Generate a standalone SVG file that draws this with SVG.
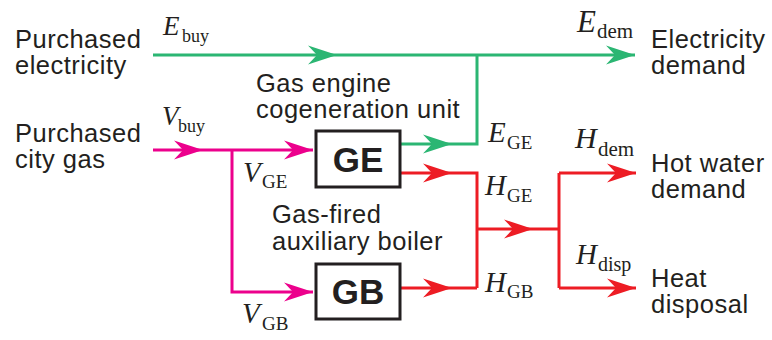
<svg xmlns="http://www.w3.org/2000/svg" width="772" height="340" viewBox="0 0 772 340">
<style>
.lbl{font-family:"Liberation Sans",Arial,sans-serif;font-size:25.5px;letter-spacing:0.5px;fill:#231f20}
.box{fill:#fff;stroke:#231f20;stroke-width:3}
.bt{font-family:"Liberation Sans",Arial,sans-serif;font-size:35px;font-weight:bold;fill:#231f20;text-anchor:middle}
.m{font-family:"Liberation Serif","Times New Roman",serif;font-style:italic;fill:#231f20}
.s{font-family:"Liberation Serif","Times New Roman",serif;font-style:normal;fill:#231f20}
.g{fill:none;stroke:#2bb673;stroke-width:3}
.p{fill:none;stroke:#ec008c;stroke-width:3}
.r{fill:none;stroke:#ed1c24;stroke-width:3}
</style>
<defs>
<marker id="ag" markerUnits="userSpaceOnUse" markerWidth="32" markerHeight="22" viewBox="-30 -11 32 22" refX="0" refY="0" orient="auto"><path d="M0,0 L-29,-9.5 L-20,0 L-29,9.5 Z" fill="#2bb673"/></marker>
<marker id="ap" markerUnits="userSpaceOnUse" markerWidth="32" markerHeight="22" viewBox="-30 -11 32 22" refX="0" refY="0" orient="auto"><path d="M0,0 L-29,-9.5 L-20,0 L-29,9.5 Z" fill="#ec008c"/></marker>
<marker id="ar" markerUnits="userSpaceOnUse" markerWidth="32" markerHeight="22" viewBox="-30 -11 32 22" refX="0" refY="0" orient="auto"><path d="M0,0 L-29,-9.5 L-20,0 L-29,9.5 Z" fill="#ed1c24"/></marker>
</defs>
<g id="connectors">
<path class="g" d="M153,55 H337" marker-end="url(#ag)"/>
<path class="g" d="M337,55 H635" marker-end="url(#ag)"/>
<path class="g" d="M400,144 H452" marker-end="url(#ag)"/>
<path class="g" d="M452,144 H477 V55"/>
<path class="p" d="M153,150 H203" marker-end="url(#ap)"/>
<path class="p" d="M203,150 H313" marker-end="url(#ap)"/>
<path class="p" d="M232,150 V292 H313" marker-end="url(#ap)"/>
<path class="r" d="M400,173 H452" marker-end="url(#ar)"/>
<path class="r" d="M452,173 H477 V288"/>
<path class="r" d="M400,288 H452" marker-end="url(#ar)"/>
<path class="r" d="M452,288 H477"/>
<path class="r" d="M477,229 H533" marker-end="url(#ar)"/>
<path class="r" d="M533,229 H559"/>
<path class="r" d="M559,173 V288"/>
<path class="r" d="M559,173 H636" marker-end="url(#ar)"/>
<path class="r" d="M559,288 H636" marker-end="url(#ar)"/>
</g>
<g id="purchased-electricity"><text class="lbl" x="15" y="48">Purchased</text><text class="lbl" x="15" y="74">electricity</text></g>
<g id="purchased-gas"><text class="lbl" x="15" y="142">Purchased</text><text class="lbl" x="15" y="168">city gas</text></g>
<g id="ge-label"><text class="lbl" x="256" y="92">Gas engine</text><text class="lbl" x="256" y="118">cogeneration unit</text></g>
<g id="gb-label"><text class="lbl" x="272" y="223">Gas-fired</text><text class="lbl" x="272" y="250">auxiliary boiler</text></g>
<g id="electricity-demand"><text class="lbl" x="651" y="48">Electricity</text><text class="lbl" x="651" y="74">demand</text></g>
<g id="hot-water-demand"><text class="lbl" x="651" y="172">Hot water</text><text class="lbl" x="651" y="198">demand</text></g>
<g id="heat-disposal"><text class="lbl" x="651" y="287">Heat</text><text class="lbl" x="651" y="313">disposal</text></g>
<g id="GE"><rect class="box" x="316" y="131" width="84" height="56"/><text class="bt" x="358" y="171.5">GE</text></g>
<g id="GB"><rect class="box" x="316" y="264" width="84" height="55"/><text class="bt" x="358" y="304">GB</text></g>
<g id="math-labels">
<text x="163" y="35"><tspan class="m" font-size="27">E</tspan><tspan class="s" font-size="18" x="182" y="42">buy</tspan></text>
<text x="577" y="32"><tspan class="m" font-size="31">E</tspan><tspan class="s" font-size="21" x="597" y="38">dem</tspan></text>
<text x="162" y="125"><tspan class="m" font-size="27">V</tspan><tspan class="s" font-size="18" x="178" y="132">buy</tspan></text>
<text x="488" y="142"><tspan class="m" font-size="29">E</tspan><tspan class="s" font-size="19" x="507" y="149">GE</tspan></text>
<text x="575" y="148"><tspan class="m" font-size="30">H</tspan><tspan class="s" font-size="21" x="598" y="156">dem</tspan></text>
<text x="243" y="182"><tspan class="m" font-size="29">V</tspan><tspan class="s" font-size="19" x="262" y="188">GE</tspan></text>
<text x="485" y="195"><tspan class="m" font-size="29">H</tspan><tspan class="s" font-size="19" x="507" y="202">GE</tspan></text>
<text x="485" y="292"><tspan class="m" font-size="29">H</tspan><tspan class="s" font-size="19" x="507" y="298">GB</tspan></text>
<text x="576" y="264"><tspan class="m" font-size="29">H</tspan><tspan class="s" font-size="20" x="598" y="271">disp</tspan></text>
<text x="242" y="323"><tspan class="m" font-size="29">V</tspan><tspan class="s" font-size="19" x="262" y="330">GB</tspan></text>
</g>
</svg>
